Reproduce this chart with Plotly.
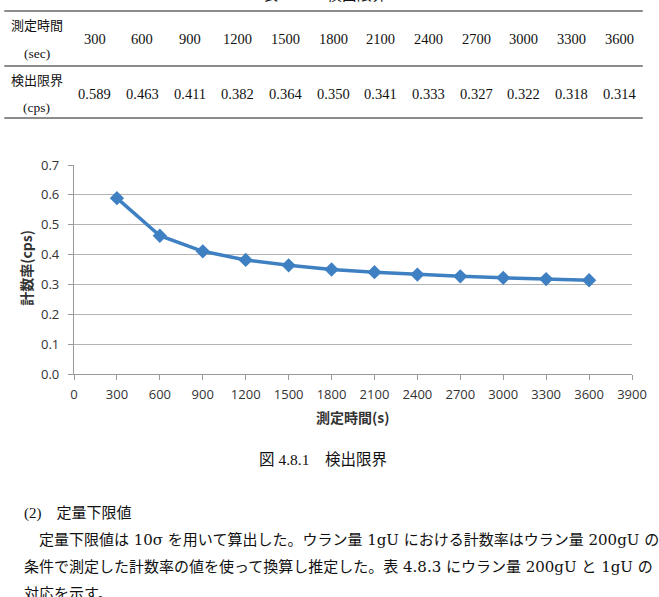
import plotly.graph_objects as go

# ---- data ----
times = [300, 600, 900, 1200, 1500, 1800, 2100, 2400, 2700, 3000, 3300, 3600]
limits = [0.589, 0.463, 0.411, 0.382, 0.364, 0.350, 0.341, 0.333, 0.327, 0.322, 0.318, 0.314]
limit_labels = ["0.589", "0.463", "0.411", "0.382", "0.364", "0.350", "0.341", "0.333",
                "0.327", "0.322", "0.318", "0.314"]
table_title = "表 4.8.2　検出限界"
row1_head = ["測定時間", "(sec)"]
row2_head = ["検出限界", "(cps)"]
fig_caption = "図 4.8.1　検出限界"
xtitle = "測定時間(s)"
ytitle = "計数率(cps)"
body_lines = [
    "(2)　定量下限値",
    "　定量下限値は 10σ を用いて算出した。ウラン量 1gU における計数率はウラン量 200gU の",
    "条件で測定した計数率の値を使って換算し推定した。表 4.8.3 にウラン量 200gU と 1gU の",
    "対応を示す。",
]

# ---- layout geometry (pixels) ----
WIDTH, HEIGHT = 659, 597
L, R, T, B = 74, 642, 165, 374
PW, PH = R - L, B - T

def px(x):
    return (x - L) / PW

def py(y):
    return (B - y) / PH

SERIF = "Liberation Serif, Noto Sans CJK JP, serif"
WSERIF = "DejaVu Serif, Noto Sans CJK JP, serif"
SANS = "Open Sans, Noto Sans CJK JP, sans-serif"
CJK = "Noto Sans CJK JP, sans-serif"

annotations = []
shapes = []

def ann(text, x, y, size, family=SERIF, xanchor="center", color="#111111", angle=0):
    annotations.append(dict(
        text=text, x=px(x), y=py(y), xref="paper", yref="paper",
        xanchor=xanchor, yanchor="middle", showarrow=False, textangle=angle,
        font=dict(size=size, family=family, color=color)))

def hline(y, x0, x1, color="#666666", width=1.5):
    shapes.append(dict(type="line", xref="paper", yref="paper",
                       x0=px(x0), x1=px(x1), y0=py(y), y1=py(y),
                       line=dict(color=color, width=width)))

# ---- table ----
ann(table_title, 330, -5, 15)
hline(11, 3, 653)
hline(66, 3, 653)
hline(118, 3, 653)
ann(row1_head[0], 36, 25, 13)
ann(row1_head[1], 36, 53, 13.5)
ann(row2_head[0], 36, 80, 13)
ann(row2_head[1], 36, 107, 13.5)
col0, colstep = 95, 48.55
for i, t in enumerate(times):
    cx = col0 + i * colstep
    ann(str(t), cx, 39, 14.5)
    ann(limit_labels[i], cx, 94, 14.5)

# ---- axis titles ----
ann("<b>" + xtitle + "</b>", 358, 417, 14, family=CJK, color="#333333")
ann("<b>" + ytitle + "</b>", 25, 268, 14, family=CJK, color="#333333", angle=-90)

# ---- caption and body text ----
ann(fig_caption, 327, 459, 15.5)
ann(body_lines[0], 21, 513, 15, xanchor="left")
ann(body_lines[1], 21, 540, 15, family=WSERIF, xanchor="left")
ann(body_lines[2], 21, 567, 15, family=WSERIF, xanchor="left")
ann(body_lines[3], 21, 594, 15, xanchor="left")

fig = go.Figure()
fig.add_trace(go.Scatter(
    x=times, y=limits, mode="lines+markers",
    line=dict(color="#3f80c2", width=3.5),
    marker=dict(symbol="diamond", size=11, color="#3f80c2"),
    cliponaxis=False, showlegend=False))

fig.update_layout(
    width=WIDTH, height=HEIGHT,
    margin=dict(l=L, r=WIDTH - R, t=T, b=HEIGHT - B, pad=0),
    paper_bgcolor="white", plot_bgcolor="white",
    annotations=annotations, shapes=shapes,
    xaxis=dict(range=[0, 3900], tick0=0, dtick=300, tickmode="linear",
               showgrid=False, zeroline=False, showline=True,
               linecolor="#9a9a9a", linewidth=1.2,
               ticks="outside", ticklen=5, tickcolor="#9a9a9a",
               ticklabelstandoff=3,
               tickfont=dict(family=SANS, size=13, color="#333333")),
    yaxis=dict(range=[0, 0.7], dtick=0.1, tick0=0, tickmode="linear", tickformat=".1f",
               showgrid=True, gridcolor="#b3b3b3", gridwidth=1.2,
               zeroline=False, showline=True,
               linecolor="#9a9a9a", linewidth=1.2,
               ticks="outside", ticklen=5, tickcolor="#9a9a9a",
               ticklabelstandoff=6,
               tickfont=dict(family=SANS, size=13, color="#333333")),
)

fig.write_html("out.html")
